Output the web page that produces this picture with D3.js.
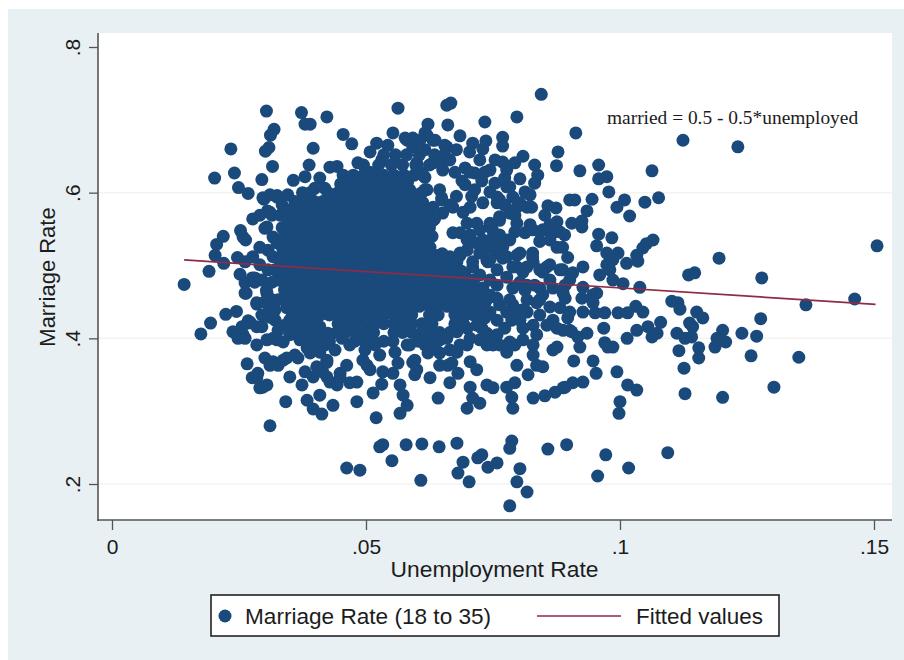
<!DOCTYPE html>
<html>
<head>
<meta charset="utf-8">
<script src="https://cdn.jsdelivr.net/npm/d3@7"></script>
<style>
  html, body { margin: 0; padding: 0; background: #fff; }
  svg { display: block; }
  text { font-family: "Liberation Sans", Arial, sans-serif; fill: #1c1c1c; }
</style>
</head>
<body>
<svg></svg>
<script>
const width = 904;
const height = 660;

const xTicks = [0, .05, .1, .15];
const xTickLabels = ["0", ".05", ".1", ".15"];
const yTicks = [.2, .4, .6, .8];
const yTickLabels = [".2", ".4", ".6", ".8"];

// fitted line ends, married = 0.5 - 0.5*unemployed
const fitX = [.0142, .1503];
const fitY = [.5076, .4467];

// top edge of the cloud and upper left strays: [unemployment, marriage]
const upperPoints = [
  [.0304,.712],[.0373,.710],[.038,.694],[.039,.694],[.0423,.704],[.0563,.716],[.0319,.687],[.0312,.679],
  [.0309,.662],[.0302,.657],[.0234,.660],[.0396,.661],[.0455,.680],[.0472,.667],[.0316,.636],[.0241,.627],
  [.0202,.620],[.0295,.618],[.0249,.607],[.0268,.599],[.0299,.591],[.0325,.596],[.0306,.575],[.0277,.564],
  [.0253,.548],[.0263,.535],[.0219,.540],[.0206,.529],[.0203,.514],[.0220,.503],[.0247,.511],[.0191,.492],
  [.0142,.474],[.0252,.488],[.0262,.476],[.0281,.483],[.0264,.462],[.0304,.466],[.0285,.447],[.0224,.433],
  [.0245,.437],[.0194,.421],[.0268,.424],[.0311,.430],[.0175,.406],[.0357,.617],[.038,.622],[.0409,.620],
  [.0388,.638],[.0429,.635],[.0443,.636],[.0484,.641],[.0508,.628],[.0508,.656],[.0521,.668],[.0543,.665],
  [.0553,.682],[.0577,.675],[.0592,.675],[.0622,.694],[.062,.679],[.0659,.720],[.0667,.723],[.0661,.693],
  [.0636,.672],[.0659,.663],[.0531,.645],[.0557,.642],[.06,.641],[.061,.627],[.0582,.615],[.0632,.641],
  [.0659,.645],[.0645,.604]
];

// right of the dense part, above the fitted line
const upperRightPoints = [
  [.0845,.735],[.0734,.697],[.0797,.704],[.0913,.682],[.1124,.672],[.0878,.656],[.0875,.637],[.0809,.650],
  [.0769,.676],[.0769,.664],[.0736,.671],[.073,.660],[.071,.668],[.0704,.656],[.0685,.678],[.0678,.659],
  [.0655,.665],[.0632,.672],[.0616,.682],[.0616,.659],[.0651,.645],[.0665,.645],[.06,.638],[.0616,.621],
  [.0695,.634],[.0714,.627],[.0689,.616],[.0728,.616],[.0754,.613],[.0744,.631],[.0769,.642],[.0793,.641],
  [.0777,.631],[.0832,.638],[.0838,.624],[.0803,.619],[.0832,.613],[.0813,.601],[.0777,.608],[.0921,.630],
  [.0958,.638],[.0974,.622],[.0958,.619],[.0978,.601],[.1063,.630],[.1076,.593],[.1049,.587],[.1009,.590],
  [.0994,.580],[.1019,.568],[.0945,.591],[.0935,.575],[.0901,.590],[.0911,.590],[.0858,.582],[.0874,.579],
  [.0925,.561],[.0905,.558],[.0925,.553],[.0876,.560],[.0826,.580],[.0797,.580],[.0783,.572],[.0828,.549],
  [.0848,.549],[.0868,.545],[.0891,.542],[.0842,.533],[.0813,.545],[.0958,.543],[.0984,.538],[.0954,.527],
  [.0974,.517],[.0996,.517],[.098,.505],[.1013,.503],[.1035,.506],[.1045,.524],[.1065,.535],[.1052,.530],
  [.1135,.487],[.1147,.490],[.096,.487],[.098,.494],[.0986,.480],[.1006,.475],[.1039,.470],[.0887,.494],
  [.0907,.490],[.0927,.498],[.0842,.494],[.0856,.498],[.0897,.511],[.0876,.525],[.0887,.525],[.0828,.517],
  [.0803,.517],[.0777,.512],[.0797,.498],[.0809,.491],[.0777,.535],[.0744,.525],[.0718,.531],[.0685,.545],
  [.0671,.545],[.0699,.558],[.0763,.562],[.0744,.558],[.0817,.580],[.0803,.586],[.073,.586],[.0708,.595],
  [.0678,.595],[.0649,.593],[.0616,.604],[.058,.618],[.0586,.604],[.06,.595],[.0749,.549],[.0632,.580],
  [.0632,.562],[.0665,.512],[.0685,.514],[.0738,.507],[.071,.498],[.0632,.503],[.0626,.525],
  [.0862,.556],[.0842,.546],[.0882,.546],[.0986,.508],[.1033,.514],[.0974,.501],[.0758,.528],[.0769,.510],
  [.0797,.514],[.0829,.505],[.0817,.473],[.0803,.477],[.0862,.501],[.0882,.494],[.0842,.469],[.073,.519],
  [.074,.505],[.071,.505],[.0679,.505],[.0645,.514],[.0655,.487]
];

// in-between part of the cloud, right of the solid centre
const midPoints = [
  [.0581,.672],[.0592,.663],[.0606,.672],[.06,.635],[.058,.613],[.0586,.600],[.062,.604],[.0649,.590],
  [.0671,.580],[.0651,.572],[.0612,.586],[.0705,.580],[.0763,.590],[.0758,.594],[.0783,.608],[.0789,.594],
  [.0758,.586],[.0797,.558],[.0763,.567],[.0744,.553],[.075,.539],[.0718,.558],[.0699,.535],[.073,.535],
  [.0783,.535],[.0769,.525],[.0758,.517],[.0724,.517],[.0699,.521],[.0685,.517],[.0744,.508],[.0789,.498],
  [.0817,.498],[.0828,.511],[.0848,.491],[.0901,.480],[.0758,.494],[.0777,.484],[.0758,.473],[.0789,.469],
  [.0813,.466],[.0842,.453],[.0817,.453],[.0789,.432],[.0763,.446],[.0738,.453],[.073,.469],[.0705,.476],
  [.0817,.436],[.0842,.432],[.0868,.425],[.0809,.398],[.0803,.425],[.0773,.414],[.0758,.405],[.0724,.398],
  [.0718,.418],[.0691,.428],[.0685,.391],[.0665,.384],[.0636,.391],[.0606,.398],[.0616,.411],[.0581,.391],
  [.0557,.381],[.0518,.391],[.0498,.384],[.0439,.384],[.0419,.391],[.037,.398],[.039,.405],[.036,.411],
  [.035,.425],[.0344,.442],[.0455,.624],[.0475,.624],[.0495,.624],[.0515,.624],[.0535,.624],[.0555,.624],
  [.0575,.624],[.0595,.624],[.0612,.624],[.0495,.638],[.0525,.638],[.055,.638],[.0572,.638],[.0598,.638],
  [.0625,.638],[.0535,.652],[.0558,.652],[.058,.652],[.0605,.652],[.0635,.652],[.0655,.652],
  [.0651,.631],[.0675,.628],[.0724,.645],[.0754,.645],[.0695,.611],[.0714,.604],[.0744,.601],[.0773,.620],
  [.0665,.583],[.0691,.573],[.0705,.542],[.0724,.549],[.0773,.583],[.0793,.569],[.0823,.597],[.0852,.569],
  [.0823,.556],[.0793,.546],[.0763,.542],[.0862,.535],[.0705,.628],[.0734,.628],[.0675,.497],[.0695,.487],
  [.0724,.487],[.0744,.480],[.072,.466],[.0744,.459],[.0724,.446],[.0705,.436],[.0744,.436],[.0675,.414],
  [.0728,.414],[.0699,.391],[.0738,.391],[.0763,.391],[.0793,.391],[.0783,.453],[.0807,.439],[.0832,.473],
  [.0862,.480],[.0892,.473],[.0616,.391],[.0645,.398],[.0586,.391]
];

// left edge of the solid centre
const leftEdgePoints = [
  [.034,.466],[.0327,.480],[.0331,.500],[.0337,.521],[.034,.542],[.035,.562],[.036,.579],[.038,.597],
  [.0399,.606],[.0419,.606],[.0346,.597],[.0335,.583],[.0315,.569],[.034,.569],[.0307,.494],[.0291,.501],
  [.0307,.446],[.0327,.453],[.0321,.425],[.034,.418],[.0327,.411],[.035,.405],[.0307,.521],[.0295,.480],
  [.0315,.453],[.0295,.432],[.0321,.439],[.0321,.494],[.0331,.569],[.0311,.597],[.0291,.569]
];

// far right strays
const farRightPoints = [
  [.1102,.451],[.1114,.449],[.1118,.440],[.1151,.436],[.1163,.428],[.108,.422],[.1055,.416],[.1073,.407],
  [.1063,.402],[.1033,.411],[.1014,.400],[.0968,.414],[.097,.394],[.0986,.388],[.0976,.388],[.0994,.354],
  [.1015,.336],[.1033,.329],[.1,.313],[.0998,.297],[.0947,.369],[.0953,.352],[.0909,.369],[.0868,.384],
  [.0876,.388],[.1112,.407],[.1128,.400],[.1141,.402],[.1143,.416],[.1137,.421],[.1116,.383],[.1155,.373],
  [.1155,.387],[.1126,.359],[.1128,.324],[.1202,.319],[.1303,.333],[.1352,.374],[.1258,.376],[.124,.407],
  [.1269,.403],[.1202,.411],[.1191,.400],[.1208,.395],[.1187,.388],[.1197,.398],[.1277,.427],[.1279,.483],
  [.1195,.510],[.1366,.446],[.1462,.454],[.1506,.527],[.1232,.663]
];

// below the fitted line, between the dense part and the strays
const lowerMidPoints = [
  [.0901,.436],[.0882,.442],[.0862,.443],[.0836,.449],[.0897,.428],[.0848,.460],[.0868,.469],[.0888,.462],
  [.0892,.455],[.0925,.455],[.0947,.460],[.0927,.436],[.0951,.435],[.097,.435],[.0996,.435],[.1015,.435],
  [.1031,.444],[.1045,.436],[.0947,.449],[.0954,.462],[.0927,.470],[.0829,.418],[.0856,.418],[.0876,.414],
  [.0901,.411],[.0935,.407],[.0917,.402],[.0921,.388],[.0905,.409],[.0888,.411],[.0836,.405],[.0829,.391],
  [.0829,.377],[.0836,.363],[.0848,.361],[.0819,.350],[.0797,.363],[.0777,.381],[.0783,.395],[.0809,.414],
  [.0787,.425],[.0758,.425],[.0734,.428],[.0724,.436],[.0738,.407],[.075,.391],[.0744,.400],[.0777,.436],
  [.0758,.455],[.0789,.446],[.0699,.414],[.0705,.400],[.0679,.409],[.0659,.400],[.0679,.381],[.0705,.368],
  [.0718,.357],[.0622,.380],[.0645,.380],[.0661,.363],[.0681,.352],[.0665,.339],[.0626,.346],[.0645,.363],
  [.0592,.367],[.0596,.350],[.0563,.366],[.0553,.352],[.0596,.370],[.06,.357],[.0669,.366],[.0829,.318],
  [.0852,.321],[.0872,.326],[.0888,.332],[.0907,.339],[.0927,.340],[.0892,.333],[.0789,.304],[.0787,.319],
  [.0793,.339],[.0777,.333],[.0724,.311],[.0699,.304],[.071,.318],[.0705,.333],[.0738,.336],[.075,.332],
  [.0642,.318],[.0567,.297],[.0581,.308],[.052,.291]
];

// lower left edge of the cloud
const lowerLeftPoints = [
  [.0311,.280],[.0342,.313],[.0384,.315],[.0396,.303],[.0413,.296],[.0374,.336],[.035,.347],[.0435,.308],
  [.0409,.322],[.0482,.313],[.0514,.325],[.0531,.337],[.0567,.336],[.0573,.322],[.0266,.365],[.0285,.346],
  [.0297,.333],[.0276,.346],[.0291,.332],[.0305,.336],[.0287,.352],[.0305,.553],[.0325,.535],[.0291,.525],
  [.0277,.512],[.0317,.512],[.0297,.593],[.0325,.594],[.0311,.573],[.0301,.551],[.0258,.539],[.0317,.539],
  [.0325,.531],[.0262,.505],[.0276,.483],[.0281,.477],[.0262,.462],[.0305,.462],[.0285,.449],[.0301,.450],
  [.0315,.477],[.0311,.429],[.0268,.421],[.0285,.416],[.0258,.405],[.0238,.409],[.0248,.400],[.0262,.400],
  [.0256,.416],[.0272,.422],[.0295,.416],[.0285,.391],[.0305,.398],[.0325,.398],[.0317,.400],[.0337,.395],
  [.0317,.368],[.0301,.373],[.0337,.370],[.0311,.363],[.0327,.363],[.0344,.373],[.036,.377],[.0366,.373],
  [.0384,.387],[.0409,.381],[.0423,.367],[.038,.354],[.0396,.347],[.0415,.354],[.0429,.340],[.0423,.347],
  [.0462,.363],[.0449,.346],[.0482,.340],[.0468,.339],[.0443,.336],[.0502,.363],[.0527,.377],[.0533,.354],
  [.0508,.357],[.0494,.370],[.039,.380],[.0403,.384],[.0403,.361],[.0423,.370],[.0449,.352],[.0425,.407],
  [.0409,.416],[.0453,.400],[.0468,.391]
];

// small group under the main cloud
const bottomPoints = [
  [.0462,.222],[.0488,.219],[.0527,.251],[.0533,.254],[.0551,.232],[.0579,.254],[.061,.255],[.0644,.251],
  [.0679,.256],[.0608,.205],[.0691,.230],[.0681,.215],[.0703,.203],[.072,.236],[.0728,.240],[.074,.223],
  [.0758,.229],[.0787,.259],[.0783,.249],[.0803,.221],[.0797,.203],[.0817,.189],[.0783,.170],[.0858,.248],
  [.0895,.254],[.0972,.240],[.0956,.211],[.1017,.222],[.1094,.243]
];

// solid centre of the cloud, one list of unemployment values per marriage level
const denseMarriage = [.612, .600, .588, .576, .564, .552, .540, .528, .516, .504, .492, .480, .468, .456, .444, .432, .420, .408, .396];
const denseUnemployment = [
  [.045,.0468,.0485,.0505,.052,.054,.056],
  [.0375,.039,.0425,.0445,.0463,.048,.05,.0517,.0535,.0555,.0573,.059,.061],
  [.036,.038,.0398,.0415,.0435,.045,.047,.0488,.0505,.0525,.054,.056,.0578,.0595],
  [.035,.037,.0388,.0405,.0425,.044,.046,.0478,.0497,.0515,.0532,.055,.0568,.0585,.0605,.0625],
  [.0345,.036,.038,.04,.0418,.0435,.0455,.047,.049,.0508,.0525,.0545,.056,.058,.0598,.0618,.0635],
  [.0335,.0355,.037,.039,.041,.0425,.0445,.046,.048,.05,.0515,.0535,.055,.057,.0588,.0605,.0625],
  [.034,.0358,.0378,.0395,.0415,.0433,.045,.047,.0487,.0505,.0522,.054,.056,.0578,.0595,.0615,.063],
  [.0333,.035,.037,.0388,.0405,.0425,.044,.046,.0478,.0495,.0515,.053,.055,.0568,.0585,.0605,.0622],
  [.034,.036,.0378,.0395,.0415,.0432,.045,.0468,.0487,.0505,.0522,.054,.056,.0578,.0595,.0612,.063,.065],
  [.0335,.035,.037,.0388,.0405,.0425,.044,.046,.0478,.0497,.0515,.053,.055,.0568,.0585,.0605,.0622,.064,.066],
  [.034,.0358,.0378,.0395,.0413,.0432,.045,.0468,.0487,.0505,.0523,.054,.056,.0578,.0595,.0613,.063,.065,.0668,.0688],
  [.0335,.035,.037,.0388,.0405,.0425,.044,.046,.0478,.0495,.0515,.053,.055,.0568,.0585,.0605,.0622,.064,.066,.0678,.0695,.0712],
  [.034,.0358,.0378,.0395,.0413,.0432,.045,.0468,.0487,.0505,.0523,.054,.056,.0578,.0595,.0613,.063,.065,.0668,.0688,.0705,.0725],
  [.0345,.036,.038,.04,.0418,.0435,.0455,.047,.049,.0508,.0525,.0545,.056,.058,.0598,.0618,.0635,.0655,.0672,.069,.071,.0728,.074],
  [.035,.037,.0388,.0405,.0425,.044,.046,.0478,.0497,.0515,.0532,.055,.0568,.0585,.0605,.0625,.064,.066,.0678,.0695,.0715,.0733],
  [.0355,.0375,.0392,.041,.0428,.0445,.0465,.0483,.05,.052,.0535,.0555,.0572,.059,.0625,.0642,.0675,.0695,.0712,.073],
  [.036,.038,.0398,.0445,.0463,.048,.05,.0517,.0535,.0555,.0573,.059,.061,.063,.0675,.0692],
  [.0372,.039,.0408,.0442,.046,.048,.0497,.0515,.0555,.0572,.059,.061,.0628,.0645,.0665],
  [.039,.0408,.0428,.0478,.0497,.0515,.0535,.0553,.0603,.0622,.064]
];

const svg = d3.select("svg").attr("width", width).attr("height", height);

const x = d3.scaleLinear().domain([0, .15]).range([112, 874]);
const y = d3.scaleLinear().domain([.2, .8]).range([484, 47]);

const densePoints = denseMarriage.flatMap((m, i) => denseUnemployment[i].map(u => [u, m]));
const points = [...upperPoints, ...upperRightPoints, ...midPoints, ...leftEdgePoints, ...farRightPoints, ...lowerMidPoints, ...lowerLeftPoints, ...bottomPoints, ...densePoints];

const dotColor = "#1a4a7b";
const lineColor = "#8e2b45";

// graph region, plot region
svg.append("rect").attr("x", 8).attr("y", 9).attr("width", width - 8).attr("height", height - 9).attr("fill", "#e8f0f4");
svg.append("rect").attr("x", 98).attr("y", 33).attr("width", 794).attr("height", 487).attr("fill", "#fff");

svg.append("g").selectAll("line")
    .data(yTicks.slice(0, 3))
    .enter().append("line")
    .attr("x1", 98).attr("x2", 892)
    .attr("y1", d => y(d)).attr("y2", d => y(d))
    .attr("stroke", "#f5f3f1").attr("stroke-width", 1.5);

svg.append("g").selectAll("circle")
    .data(points)
    .enter().append("circle")
    .attr("cx", d => x(d[0]))
    .attr("cy", d => y(d[1]))
    .attr("r", 6.5)
    .attr("fill", dotColor);

svg.append("path")
    .datum(fitX.map((d, i) => [d, fitY[i]]))
    .attr("d", d3.line().x(d => x(d[0])).y(d => y(d[1])))
    .attr("fill", "none")
    .attr("stroke", lineColor)
    .attr("stroke-width", 1.7);

// axes
const xAxis = d3.axisBottom(x).tickValues(xTicks).tickFormat((d, i) => xTickLabels[i]).tickSize(10).tickSizeOuter(0);
const yAxis = d3.axisLeft(y).tickValues(yTicks).tickFormat((d, i) => yTickLabels[i]).tickSize(9).tickSizeOuter(0);

const gx = svg.append("g").attr("transform", "translate(0,520)").call(xAxis);
gx.select(".domain").attr("d", "M97,0H892");
gx.selectAll("text").attr("y", 19).attr("font-size", 21).attr("font-family", null).style("fill", "#1c1c1c");

const gy = svg.append("g").attr("transform", "translate(98,0)").call(yAxis);
gy.select(".domain").attr("d", "M0,33V521");
gy.selectAll("text")
    .attr("x", null).attr("dy", null)
    .attr("transform", "translate(-18,0) rotate(-90)")
    .attr("text-anchor", "middle")
    .attr("font-size", 21)
    .style("fill", "#1c1c1c");

[gx, gy].forEach(g => {
  g.select(".domain").attr("stroke", "#555").attr("stroke-width", 1.6);
  g.selectAll(".tick line").attr("stroke", "#555").attr("stroke-width", 1.3);
});

svg.append("text")
    .attr("x", 494.5).attr("y", 577)
    .attr("text-anchor", "middle")
    .attr("font-size", 22.8)
    .text("Unemployment Rate");

svg.append("text")
    .attr("transform", "translate(55,277) rotate(-90)")
    .attr("text-anchor", "middle")
    .attr("font-size", 22)
    .text("Marriage Rate");

svg.append("text")
    .attr("x", 607).attr("y", 124)
    .attr("font-size", 19.4)
    .style("font-family", "'Liberation Serif', 'Times New Roman', serif")
    .text("married = 0.5 - 0.5*unemployed");

// legend
const legend = svg.append("g");
legend.append("rect")
    .attr("x", 211).attr("y", 595).attr("width", 568).attr("height", 41)
    .attr("fill", "#fff").attr("stroke", "#222").attr("stroke-width", 1.6);
legend.append("circle").attr("cx", 225).attr("cy", 616).attr("r", 6.5).attr("fill", dotColor);
legend.append("text").attr("x", 245).attr("y", 624).attr("font-size", 22.6).text("Marriage Rate (18 to 35)");
legend.append("line")
    .attr("x1", 537).attr("x2", 621).attr("y1", 616).attr("y2", 616)
    .attr("stroke", lineColor).attr("stroke-width", 1.7);
legend.append("text").attr("x", 636).attr("y", 624).attr("font-size", 22.4).text("Fitted values");
</script>
</body>
</html>
